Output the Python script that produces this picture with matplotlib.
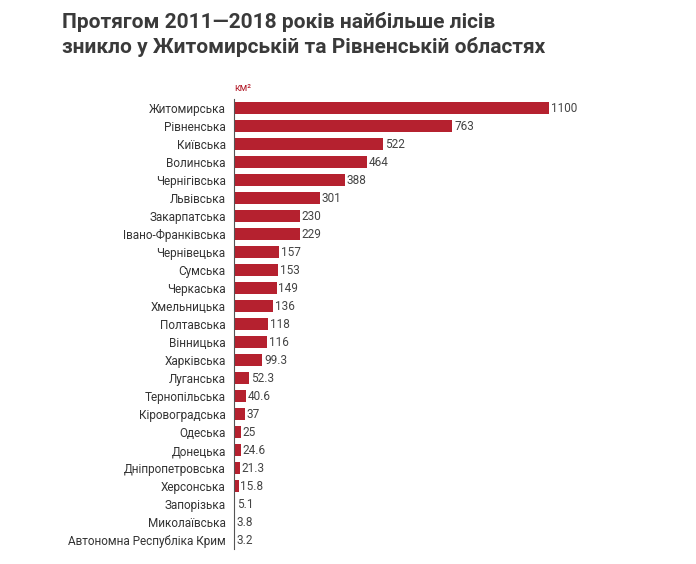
import matplotlib
matplotlib.use("Agg")
import matplotlib.pyplot as plt

regions = ["Житомирська","Рівненська","Київська","Волинська","Чернігівська","Львівська",
           "Закарпатська","Івано-Франківська","Чернівецька","Сумська","Черкаська","Хмельницька",
           "Полтавська","Вінницька","Харківська","Луганська","Тернопільська","Кіровоградська",
           "Одеська","Донецька","Дніпропетровська","Херсонська","Запорізька","Миколаївська",
           "Автономна Республіка Крим"]
values = [1100,763,522,464,388,301,230,229,157,153,149,136,118,116,99.3,52.3,40.6,37,25,24.6,21.3,15.8,5.1,3.8,3.2]
labels = ["1100","763","522","464","388","301","230","229","157","153","149","136","118","116","99.3",
          "52.3","40.6","37","25","24.6","21.3","15.8","5.1","3.8","3.2"]

plt.rcParams["font.family"] = "Roboto"
fig = plt.figure(figsize=(6.96,5.64), dpi=100)
ax = fig.add_axes([234/696, 1-549/564, (549-234)/696, 450/564])
y = list(range(len(regions)))
ax.barh(y, values, height=0.62, color="#b5212f")
ax.set_xlim(0,1100)
ax.set_ylim(len(regions)-0.5,-0.5)
ax.set_yticks(y)
ax.set_yticklabels(regions, fontsize=8.5, color="#333333")
ax.tick_params(axis="y", length=0, pad=6)
ax.set_xticks([])
for s in ["top","right","bottom"]:
    ax.spines[s].set_visible(False)
ax.spines["left"].set_color("#555555")
for yi,v,l in zip(y,values,labels):
    ax.text(v+6, yi, l, va="center", ha="left", fontsize=8.5, color="#444444", clip_on=False)
ax.text(2, -0.85, "км²", color="#b5212f", fontsize=7.5, va="bottom", ha="left")
fig.text(62/696, 1-12/564, "Протягом 2011—2018 років найбільше лісів\nзникло у Житомирській та Рівненській областях",
         fontsize=15, fontweight="bold", color="#3a3a3a", va="top", ha="left", linespacing=1.3)
fig.savefig("out.png", dpi=100, facecolor="white")
